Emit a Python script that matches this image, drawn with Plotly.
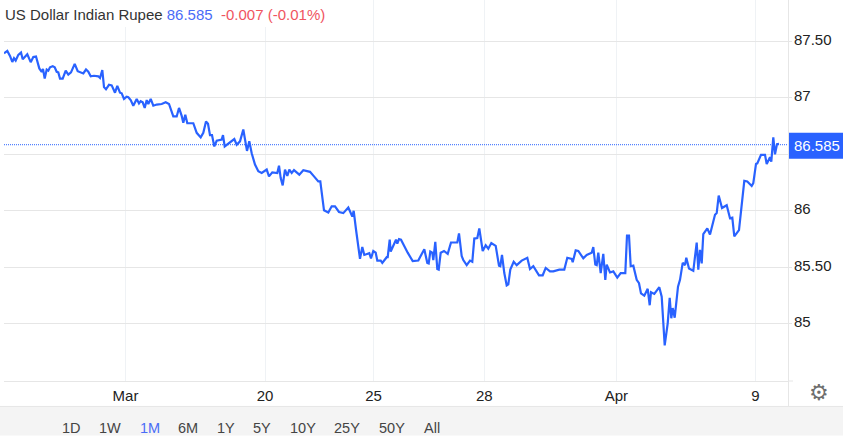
import plotly.graph_objects as go

session_pos = [4,7.3,10,12.3,14,15.7,18.3,21,22.7,25,27.3,30.7,33.3,36,39.3,41.7,43,44.7,46.7,48.3,50,52.7,54.7,56.7,58.3,60,62.7,65.7,68.3,71,74.7,77.7,81.7,83.3,86,88.3,90.7,94,98.3,100,102.3,104,106,109,111.7,115,117.3,120,121.7,124,126.7,128.3,130.7,133.3,136.7,139,140.7,142.7,144.7,146.7,148.3,150.7,153.3,156.7,161.7,165.7,169,173.3,176.7,179,181.7,183.3,185.3,187.3,193.3,196.7,200.7,203.3,206,208,210,212,214.3,216.7,221.7,223,224.7,228.3,231.7,234.3,236.7,240,243.3,247,249.3,251.7,255,258.3,261.7,266.7,269,272.3,277.3,279,280.7,282.7,285,287.3,289.3,291.7,294,296.7,299.3,303.3,310,314,318.3,320.3,324,328.3,331.7,335,339,343.3,348.3,
352.3,353.7,356,360,362.3,364.3,369.3,371,373.3,375.7,377.3,380.7,382.3,386.7,387.7,389.7,390.7,396,397.3,399,401,405,407.7,412.7,418.3,420,424.3,427.3,428.7,430.3,432.3,433.3,435.3,437.3,438.7,440.7,444,447.7,451,457.3,459,461.7,463.3,466.7,470,472.3,474.3,477.3,479.3,482.7,485.7,488.3,491.3,495.7,499,500.3,502,504.3,506.7,508.3,510.3,513.7,516.7,521.7,527.3,530,533.3,539,542.7,545.7,550,553.3,559.3,564.3,567.3,571.7,572.7,575.7,578.3,583.3,586.7,591.7,593.3,595.3,596.7,598.3,
600.7,603.3,605.3,606.7,610,613.3,617.3,620.7,625.3,627,629,630.7,633.3,636.7,639,641,644.3,647.7,649.7,651,654.3,659.3,661.7,664.7,667.7,669.7,671.3,672.7,674.7,678,680,682.7,685,686.3,689,693.3,696.7,698.3,700,701.7,703.3,707.3,710,715,716.7,718.7,722,726.7,730,732.3,734.3,739,744.3,747.3,751.7,753.3,756,757.3,761,765,766.7,770,771.3,773.3,775,777,779]

usd_inr = [87.394,87.415,87.37,87.317,87.35,87.33,87.38,87.40,87.34,87.36,87.385,87.315,87.36,87.365,87.26,87.23,87.255,87.17,87.25,87.24,87.27,87.28,87.27,87.23,87.225,87.17,87.17,87.24,87.205,87.225,87.30,87.235,87.225,87.215,87.25,87.23,87.19,87.195,87.19,87.175,87.245,87.095,87.075,87.115,87.11,87.045,87.105,87.045,87.04,86.99,87.01,87.005,86.98,86.93,86.99,86.95,86.97,86.96,86.91,86.98,86.945,86.99,86.93,86.94,86.945,86.96,86.945,86.835,86.835,86.91,86.84,86.78,86.85,86.775,86.775,86.69,86.65,86.69,86.79,86.77,86.67,86.67,86.57,86.62,86.63,86.67,86.57,86.595,86.62,86.635,86.585,86.615,86.72,86.53,86.615,86.51,86.41,86.35,86.335,86.365,86.305,86.34,86.335,86.40,86.29,86.225,86.365,86.31,86.365,86.335,86.36,86.34,86.32,86.36,86.345,86.305,86.26,86.26,86.005,85.985,86.04,86.04,85.99,85.98,86.03,
85.95,86.0,85.835,85.575,85.68,85.61,85.625,85.58,85.645,85.63,85.56,85.56,85.54,85.59,85.59,85.745,85.64,85.745,85.71,85.75,85.745,85.67,85.63,85.555,85.56,85.59,85.66,85.54,85.535,85.64,85.63,85.565,85.725,85.485,85.48,85.63,85.645,85.62,85.72,85.72,85.80,85.60,85.565,85.52,85.56,85.55,85.755,85.76,85.845,85.645,85.695,85.665,85.715,85.69,85.515,85.51,85.61,85.45,85.34,85.35,85.48,85.55,85.52,85.56,85.585,85.485,85.51,85.43,85.43,85.495,85.465,85.465,85.48,85.48,85.585,85.575,85.545,85.65,85.645,85.58,85.61,85.63,85.68,85.525,85.52,85.63,
85.45,85.62,85.39,85.525,85.455,85.465,85.41,85.45,85.45,85.78,85.78,85.51,85.515,85.39,85.36,85.27,85.25,85.31,85.165,85.28,85.265,85.325,85.24,84.81,85.005,85.23,85.05,85.14,85.055,85.33,85.39,85.54,85.52,85.585,85.49,85.47,85.72,85.48,85.655,85.535,85.795,85.845,85.79,85.965,85.98,86.135,86.025,86.05,85.935,85.94,85.775,85.83,86.265,86.26,86.22,86.245,86.415,86.42,86.495,86.495,86.415,86.475,86.435,86.65,86.50,86.59,86.593]

x_ticks = [125.5,265,373.5,484.3,616.3,755.3]
x_labels = ["Mar","20","25","28","Apr","9"]
y_ticks = [85,85.5,86,86.5,87,87.5]
y_labels = ["85","85.50","86","","87","87.50"]
last_price = 86.585
ranges = ["1D","1W","1M","6M","1Y","5Y","10Y","25Y","50Y","All"]
range_x = [71,110,150,188,226,262,303,347,392,432]

W,H = 843,436
BLUE = "#2962ff"
FONT = "Liberation Sans, Arial, sans-serif"
PL,PR,PT,PB = 4,788,0,381.5

fig = go.Figure()
fig.add_trace(go.Scatter(x=session_pos,y=usd_inr,mode="lines",line=dict(color=BLUE,width=2.2),hoverinfo="skip"))
fig.add_shape(type="line",x0=4,x1=788,y0=last_price,y1=last_price,xref="x",yref="y",line=dict(color=BLUE,width=1,dash="1px,1px"))

def px(x): return (x-PL)/(PR-PL)
def py(y): return (PB-y)/(PB-PT)
# title backing, footer band and axis rule
fig.add_shape(type="rect",xref="paper",yref="paper",x0=px(0),x1=px(335),y0=py(27),y1=py(0),fillcolor="white",line=dict(width=0))
fig.add_shape(type="rect",xref="paper",yref="paper",x0=px(0),x1=px(843),y0=py(436),y1=py(407),fillcolor="#f4f4f4",line=dict(width=0))
fig.add_shape(type="line",xref="paper",yref="paper",x0=px(0),x1=px(843),y0=py(407),y1=py(407),line=dict(color="#e6e6e6",width=1))
fig.add_shape(type="line",xref="paper",yref="paper",x0=px(788.5),x1=px(788.5),y0=py(407),y1=py(0),line=dict(color="#e6e6e6",width=1))
fig.add_shape(type="line",xref="paper",yref="paper",x0=px(788.5),x1=px(793),y0=py(381.5),y1=py(381.5),line=dict(color="#e6e6e6",width=1))
# last-price tag
fig.add_shape(type="rect",xref="paper",yref="paper",x0=px(789),x1=px(843),y0=py(159),y1=py(133),fillcolor=BLUE,line=dict(width=0))
fig.add_annotation(xref="paper",yref="paper",x=px(817),y=py(146),text="86.585",showarrow=False,font=dict(color="white",size=15,family=FONT),xanchor="center",yanchor="middle")

fig.add_annotation(xref="paper",yref="paper",x=px(3),y=py(15),xanchor="left",yanchor="middle",showarrow=False,align="left",
    font=dict(size=15,family=FONT,color="#333333"),
    text="US Dollar Indian Rupee <span style='color:#4a6cf7'>86.585</span>  <span style='color:#f0555f'>-0.007 (-0.01%)</span>")
for r,x in zip(ranges,range_x):
    fig.add_annotation(xref="paper",yref="paper",x=px(x),y=py(428.5),xanchor="center",yanchor="middle",showarrow=False,text=r,
        font=dict(size=14.5,family=FONT,color="#4a6cf7" if r=="1M" else "#444444"))
fig.add_annotation(xref="paper",yref="paper",x=px(819),y=py(393.5),xanchor="center",yanchor="middle",showarrow=False,text="⚙",
    font=dict(size=22,family="DejaVu Sans",color="#6e6e6e"))

fig.update_layout(width=W,height=H,autosize=False,margin=dict(l=4,r=55,t=0,b=54.5),paper_bgcolor="white",plot_bgcolor="white",showlegend=False,
    font=dict(family=FONT,size=15,color="#222222"))
fig.update_xaxes(range=[4,788],tickmode="array",tickvals=x_ticks,ticktext=x_labels,showgrid=True,gridcolor="#eff2f5",gridwidth=1,
    showline=True,linecolor="#e6e6e6",linewidth=1,ticks="",zeroline=False,tickfont=dict(size=15,color="#222222"),ticklabelstandoff=1)
fig.update_yaxes(range=[84.495,87.865],side="right",tickmode="array",tickvals=y_ticks,ticktext=y_labels,showgrid=True,gridcolor="#e6e6e6",gridwidth=1,
    showline=False,ticks="outside",ticklen=3,tickcolor="#e6e6e6",zeroline=False,tickfont=dict(size=15,color="#222222"),ticklabelstandoff=-1,ticklabelshift=-2)
fig.write_html("out.html",config=dict(displayModeBar=False),
    post_script="document.body.style.margin='0';document.body.style.overflow='hidden';")
